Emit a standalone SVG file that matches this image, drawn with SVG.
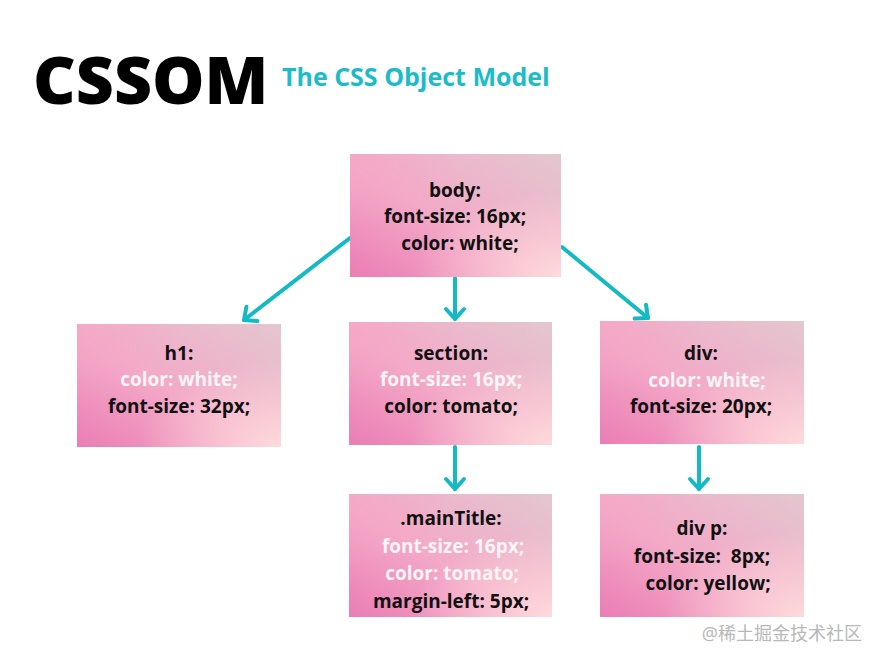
<svg xmlns="http://www.w3.org/2000/svg" width="880" height="660" viewBox="0 0 880 660">
<defs>
<linearGradient id="gBase" x1="0" y1="1" x2="1" y2="0">
<stop offset="0" stop-color="#eb7db4"/>
<stop offset="0.45" stop-color="#f3a9c7"/>
<stop offset="1" stop-color="#e3c7cf"/>
</linearGradient>
<radialGradient id="gLight" cx="1" cy="1" r="0.7">
<stop offset="0" stop-color="#ffdcdd" stop-opacity="0.95"/>
<stop offset="1" stop-color="#ffdcdd" stop-opacity="0"/>
</radialGradient>
<radialGradient id="gPink" cx="0" cy="0.1" r="0.5">
<stop offset="0" stop-color="#f6a6c6" stop-opacity="0.6"/>
<stop offset="1" stop-color="#f6a6c6" stop-opacity="0"/>
</radialGradient>
<marker id="arr" markerUnits="userSpaceOnUse" markerWidth="30" markerHeight="30" refX="15" refY="15" orient="auto">
<path d="M5,6 L15,15 L5,24" fill="none" stroke="#14b9c6" stroke-width="4" stroke-linecap="round" stroke-linejoin="round"/>
</marker>
</defs>
<style>
.bx1{fill:url(#gBase)}
.bx2{fill:url(#gLight)}
.bx3{fill:url(#gPink)}
.t{font-family:"Open Sans","Noto Sans","Liberation Sans",sans-serif;font-weight:700;font-size:19px;text-anchor:middle;fill:#111;white-space:pre}
.w{fill:#fff4f6}
.c{fill:none;stroke:#14b9c6;stroke-width:4;stroke-linecap:round;marker-end:url(#arr)}
</style>
<rect width="880" height="660" fill="#ffffff"/>
<text x="33" y="104" font-family="'Open Sans','Noto Sans',sans-serif" font-weight="800" font-size="66" fill="#000">CSSOM</text>
<text x="282" y="86" font-family="'Open Sans','Noto Sans',sans-serif" font-weight="700" font-size="25" fill="#1bbcc8">The CSS Object Model</text>

<g id="connectors">
<line class="c" x1="350" y1="238" x2="244" y2="320"/>
<line class="c" x1="455" y1="278" x2="455" y2="319"/>
<line class="c" x1="562" y1="247" x2="648" y2="318"/>
<line class="c" x1="455" y1="447" x2="455" y2="489"/>
<line class="c" x1="699" y1="447" x2="699" y2="489"/>
</g>

<g id="body">
<rect class="bx1" x="350" y="154" width="211" height="123"/>
<rect class="bx3" x="350" y="154" width="211" height="123"/>
<rect class="bx2" x="350" y="154" width="211" height="123"/>
<text class="t" x="455" y="197">body:</text>
<text class="t" x="455" y="223">font-size: 16px;</text>
<text class="t" x="460" y="250">color: white;</text>
</g>

<g id="h1">
<rect class="bx1" x="77" y="324" width="204" height="123"/>
<rect class="bx3" x="77" y="324" width="204" height="123"/>
<rect class="bx2" x="77" y="324" width="204" height="123"/>
<text class="t" x="179" y="360">h1:</text>
<text class="t w" x="179" y="386">color: white;</text>
<text class="t" x="179" y="413">font-size: 32px;</text>
</g>

<g id="section">
<rect class="bx1" x="349" y="322" width="203" height="123"/>
<rect class="bx3" x="349" y="322" width="203" height="123"/>
<rect class="bx2" x="349" y="322" width="203" height="123"/>
<text class="t" x="451" y="360">section:</text>
<text class="t w" x="451" y="386">font-size: 16px;</text>
<text class="t" x="451" y="413">color: tomato;</text>
</g>

<g id="div">
<rect class="bx1" x="600" y="321" width="204" height="123"/>
<rect class="bx3" x="600" y="321" width="204" height="123"/>
<rect class="bx2" x="600" y="321" width="204" height="123"/>
<text class="t" x="701" y="360">div:</text>
<text class="t w" x="707" y="387">color: white;</text>
<text class="t" x="701" y="413">font-size: 20px;</text>
</g>

<g id="mainTitle">
<rect class="bx1" x="349" y="494" width="203" height="123"/>
<rect class="bx3" x="349" y="494" width="203" height="123"/>
<rect class="bx2" x="349" y="494" width="203" height="123"/>
<text class="t" x="451" y="525">.mainTitle:</text>
<text class="t w" x="453" y="553">font-size: 16px;</text>
<text class="t w" x="452" y="580">color: tomato;</text>
<text class="t" x="451" y="608">margin-left: 5px;</text>
</g>

<g id="divp">
<rect class="bx1" x="600" y="494" width="204" height="123"/>
<rect class="bx3" x="600" y="494" width="204" height="123"/>
<rect class="bx2" x="600" y="494" width="204" height="123"/>
<text class="t" x="702" y="535">div p:</text>
<text class="t" x="702" y="563">font-size:  8px;</text>
<text class="t" x="708" y="590">color: yellow;</text>
</g>

<text x="862" y="640" text-anchor="end" font-family="'Noto Sans','Noto Sans CJK SC',sans-serif" font-size="18" fill="#b8b8b8">@稀土掘金技术社区</text>
</svg>
